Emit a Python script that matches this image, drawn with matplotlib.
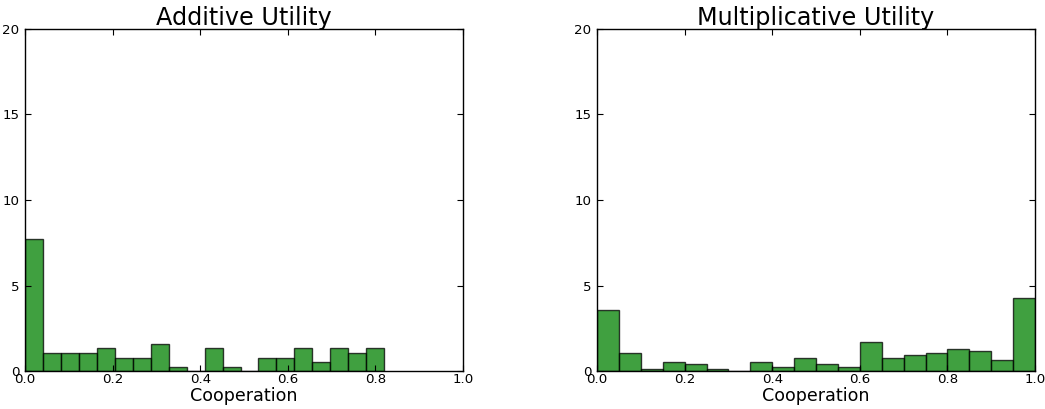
import numpy as np
import matplotlib
matplotlib.use("Agg")
import matplotlib.pyplot as plt


# ---------------------------------------------------------
# Histogram data (density per bin)
# ---------------------------------------------------------
additive_edges = np.linspace(0.0, 0.82, 21)
additive_density = [7.73, 1.04, 1.04, 1.04, 1.35, 0.78, 0.78, 1.59, 0.25, 0.0,
                    1.35, 0.25, 0.0, 0.78, 0.78, 1.35, 0.51, 1.35, 1.04, 1.35]

multiplicative_edges = np.linspace(0.0, 1.0, 21)
multiplicative_density = [3.59, 1.04, 0.12, 0.51, 0.39, 0.12, 0.0, 0.51, 0.25, 0.77,
                          0.39, 0.25, 1.69, 0.77, 0.91, 1.04, 1.29, 1.16, 0.64, 4.27]

panels = [
    ("Additive Utility", additive_edges, additive_density),
    ("Multiplicative Utility", multiplicative_edges, multiplicative_density),
]

x_ticks = [0.0, 0.2, 0.4, 0.6, 0.8, 1.0]
y_ticks = [0, 5, 10, 15, 20]


def draw_panel(ax, title, edges, density):
    centers = 0.5 * (edges[:-1] + edges[1:])
    ax.hist(centers, bins=edges, weights=density,
            facecolor="g", edgecolor="black", alpha=0.75, linewidth=1.0)

    ax.set_xlim(0, 1)
    ax.set_ylim(0, 20)
    ax.set_xticks(x_ticks)
    ax.set_xticklabels([f"{t:.1f}" for t in x_ticks])
    ax.set_yticks(y_ticks)

    ax.tick_params(direction="in", top=True, right=True, length=4,
                   labelsize=9.6)
    ax.tick_params(axis="x", pad=1.5)
    ax.tick_params(axis="y", pad=4)
    for spine in ax.spines.values():
        spine.set_linewidth(1.0)

    ax.set_title(title, fontsize=17.2, pad=3)
    ax.set_xlabel("Cooperation", fontsize=12.6, labelpad=1)


fig = plt.figure(figsize=(10.45, 4.09), dpi=100, facecolor="white")

ax1 = fig.add_axes([0.0239, 0.0929, 0.4192, 0.8362])
ax2 = fig.add_axes([0.5713, 0.0929, 0.4192, 0.8362])

for ax, (title, edges, density) in zip([ax1, ax2], panels):
    draw_panel(ax, title, edges, density)

fig.savefig("out.png", dpi=100, facecolor="white")
